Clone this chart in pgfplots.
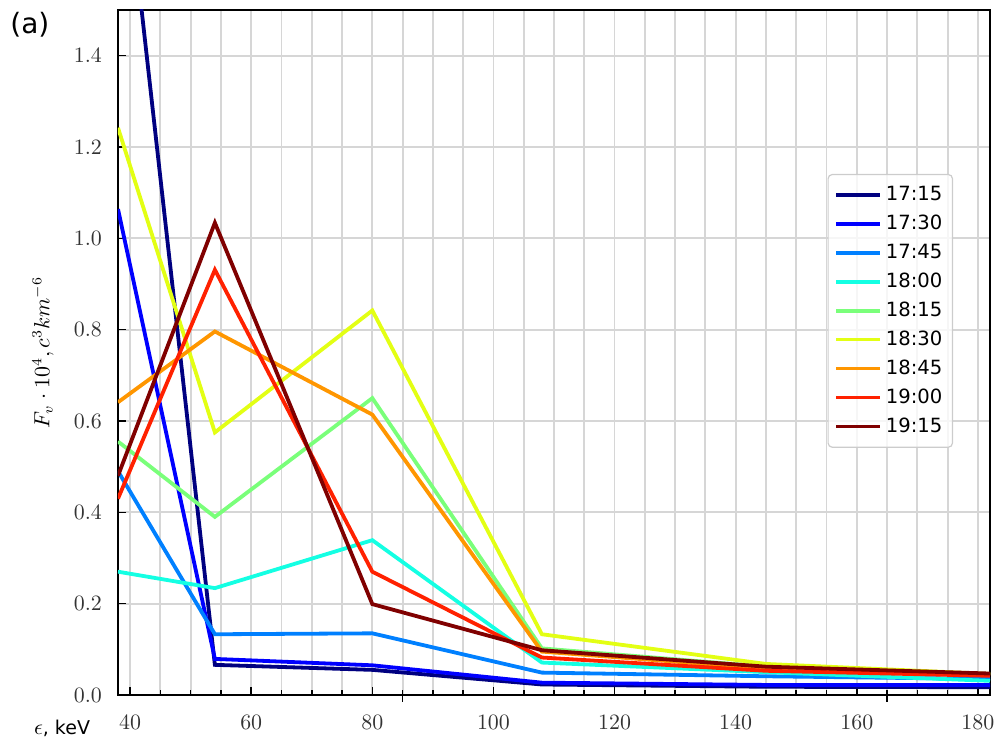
\documentclass[border=0pt]{standalone}
\usepackage{pgfplots}
\pgfplotsset{compat=1.18}
\usepackage{pgfplotstable}
\usepackage{fontspec}
\newfontfamily\dejavu{DejaVu Sans}
\usetikzlibrary{calc}

% jet colour map sampled at nine equally spaced points
\definecolor{j0}{rgb}{0,0,0.5}
\definecolor{j1}{rgb}{0,0,1}
\definecolor{j2}{rgb}{0,0.5,1}
\definecolor{j3}{rgb}{0.08,1,0.89}
\definecolor{j4}{rgb}{0.48,1,0.48}
\definecolor{j5}{rgb}{0.89,1,0.08}
\definecolor{j6}{rgb}{1,0.59,0}
\definecolor{j7}{rgb}{1,0.13,0}
\definecolor{j8}{rgb}{0.5,0,0}

% energy channel (keV) and flux for each time
\pgfplotstableread{
E    t1715 t1730 t1745 t1800 t1815 t1830 t1845 t1900 t1915
38   1.962 1.064 0.490 0.270 0.555 1.242 0.641 0.430 0.480
54   0.066 0.079 0.133 0.234 0.390 0.575 0.796 0.931 1.034
80   0.055 0.065 0.135 0.339 0.650 0.842 0.614 0.270 0.199
108  0.023 0.027 0.049 0.071 0.102 0.133 0.095 0.082 0.098
145  0.018 0.022 0.041 0.050 0.062 0.068 0.058 0.053 0.062
182  0.017 0.022 0.035 0.031 0.045 0.046 0.044 0.042 0.047
}\flux

\begin{document}
\begin{tikzpicture}
\begin{axis}[
  scale only axis,
  width=436pt, height=342.5pt,
  xmin=38, xmax=182, ymin=0, ymax=1.5,
  xtick={40,60,...,180},
  ytick={0,0.2,...,1.4},
  yticklabel style={/pgf/number format/fixed, /pgf/number format/fixed zerofill,
    /pgf/number format/precision=1, xshift=-4.5pt},
  minor x tick num=3,
  grid=both,
  major grid style={black!16, line width=0.9pt},
  minor grid style={black!16, line width=0.9pt},
  axis line style={black, line width=0.9pt},
  tick style={black, line width=0.8pt},
  tick align=inside,
  major tick length=4pt,
  minor tick length=2.5pt,
  xtick pos=lower, ytick pos=left,
  extra x ticks={85,165},
  extra x tick labels={},
  extra x tick style={tick align=outside, grid=none, major tick length=3.5pt},
  tick label style={font=\fontsize{11}{13}\selectfont, text=black!80},
  xticklabel style={yshift=-6.5pt},
  ylabel={$F_v\cdot 10^4, c^3km^{-6}$},
  ylabel style={at={(axis description cs:-0.086,0.5)}, anchor=center, font=\fontsize{10.5}{12}\selectfont},
  legend cell align=left,
  legend image code/.code={\draw[#1, line width=1.9pt] (0pt,0pt) -- (22pt,0pt);},
  legend style={
    at={(axis description cs:0.9576,0.7606)}, anchor=north east,
    font=\dejavu\fontsize{9.8}{11}\selectfont,
    draw=black!20, rounded corners=2pt, line width=0.6pt,
    fill=white, fill opacity=0.8, text opacity=1,
    row sep=1.7pt, inner xsep=3pt, inner ysep=4pt,
  },
  every axis plot/.append style={line width=1.9pt},
]
\addplot[j0] table[x=E, y=t1715] {\flux}; \addlegendentry{17:15}
\addplot[j1] table[x=E, y=t1730] {\flux}; \addlegendentry{17:30}
\addplot[j2] table[x=E, y=t1745] {\flux}; \addlegendentry{17:45}
\addplot[j3] table[x=E, y=t1800] {\flux}; \addlegendentry{18:00}
\addplot[j4] table[x=E, y=t1815] {\flux}; \addlegendentry{18:15}
\addplot[j5] table[x=E, y=t1830] {\flux}; \addlegendentry{18:30}
\addplot[j6] table[x=E, y=t1845] {\flux}; \addlegendentry{18:45}
\addplot[j7] table[x=E, y=t1900] {\flux}; \addlegendentry{19:00}
\addplot[j8] table[x=E, y=t1915] {\flux}; \addlegendentry{19:15}
\coordinate (bl) at (rel axis cs:0,0);
\coordinate (tr) at (rel axis cs:1,1);
\end{axis}
\node[anchor=west, inner sep=0pt, font=\dejavu\fontsize{14}{16}\selectfont]
  at ($(bl |- tr)+(-54pt,-7.5pt)$) {(a)};
\node[anchor=center, inner sep=0pt, font=\fontsize{10.5}{12}\selectfont]
  at ($(bl)+(-28pt,-16.5pt)$) {$\epsilon$\dejavu\fontsize{9.5}{11}\selectfont, keV};
\pgfresetboundingbox
\path[use as bounding box] ($(bl)+(-59pt,-23.5pt)$) rectangle ($(tr)+(3pt,5pt)$);
\end{tikzpicture}
\end{document}
